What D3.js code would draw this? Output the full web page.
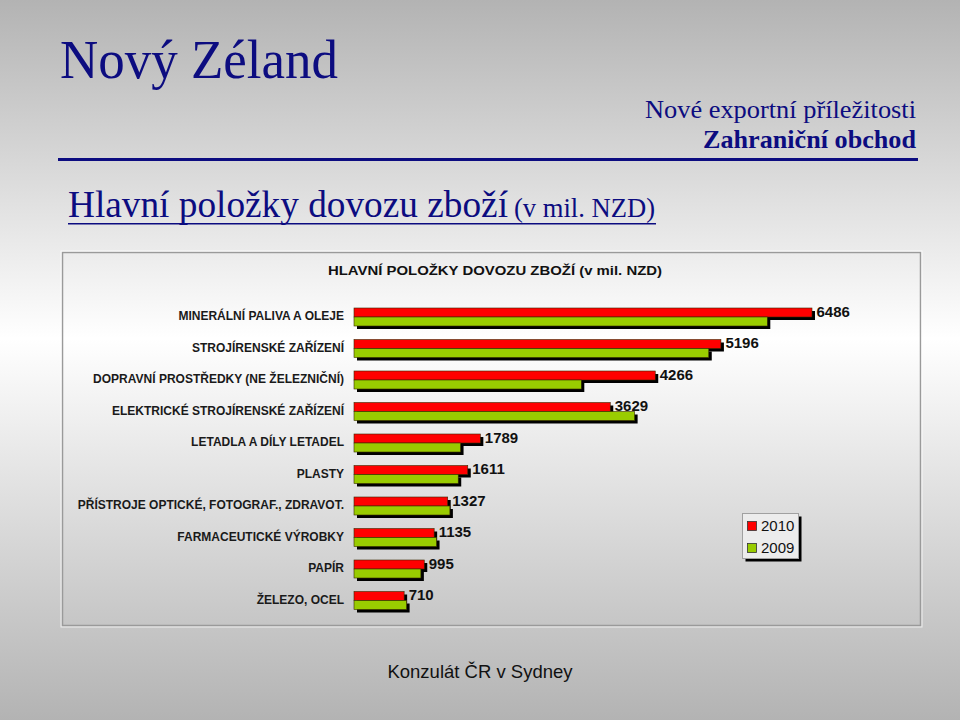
<!DOCTYPE html>
<html><head><meta charset="utf-8">
<script src="https://cdn.jsdelivr.net/npm/d3@7"></script>
<style>html,body{margin:0;padding:0;}svg{display:block;}</style>
</head><body>
<script>
const categories = ["MINERÁLNÍ PALIVA A OLEJE","STROJÍRENSKÉ ZAŘÍZENÍ","DOPRAVNÍ PROSTŘEDKY (NE ŽELEZNIČNÍ)","ELEKTRICKÉ STROJÍRENSKÉ ZAŘÍZENÍ","LETADLA A DÍLY LETADEL","PLASTY","PŘÍSTROJE OPTICKÉ, FOTOGRAF., ZDRAVOT.","FARMACEUTICKÉ VÝROBKY","PAPÍR","ŽELEZO, OCEL"];
const values2010 = [6486,5196,4266,3629,1789,1611,1327,1135,995,710];
const values2009 = [5853,5024,3219,3974,1509,1476,1358,1169,947,745];
const seriesNames = ["2010","2009"];
const seriesColors = ["#ff0000","#99cc00"];

const W=960,H=720;
const svg=d3.select("body").append("svg").attr("width",W).attr("height",H);
const defs=svg.append("defs");
const bg=defs.append("linearGradient").attr("id","bg").attr("x1",0).attr("y1",0).attr("x2",0).attr("y2",1);
bg.append("stop").attr("offset","0").attr("stop-color","#b3b3b3");
bg.append("stop").attr("offset","0.47").attr("stop-color","#ffffff");
bg.append("stop").attr("offset","1").attr("stop-color","#b3b3b3");
svg.append("rect").attr("width",W).attr("height",H).attr("fill","url(#bg)");

const navy="#0c0c80";
const serif="'Liberation Serif','Times New Roman',serif";
const sans="'Liberation Sans',Arial,sans-serif";

svg.append("text").attr("x",60).attr("y",78).attr("font-family",serif).attr("font-size",55).attr("fill",navy)
  .attr("textLength",278).attr("lengthAdjust","spacingAndGlyphs").text("Nový Zéland");
svg.append("text").attr("x",916).attr("y",118).attr("text-anchor","end").attr("font-family",serif).attr("font-size",26).attr("fill",navy)
  .attr("textLength",271).attr("lengthAdjust","spacingAndGlyphs").text("Nové exportní příležitosti");
svg.append("text").attr("x",916).attr("y",148).attr("text-anchor","end").attr("font-family",serif).attr("font-size",26).attr("font-weight","bold").attr("fill",navy)
  .attr("textLength",213).attr("lengthAdjust","spacingAndGlyphs").text("Zahraniční obchod");
svg.append("rect").attr("x",58).attr("y",158).attr("width",860).attr("height",3).attr("fill",navy);
svg.append("text").attr("x",68).attr("y",217).attr("font-family",serif).attr("fill",navy).attr("font-size",37)
  .attr("textLength",440).attr("lengthAdjust","spacingAndGlyphs").text("Hlavní položky dovozu zboží");
svg.append("text").attr("x",514).attr("y",217).attr("font-family",serif).attr("fill",navy).attr("font-size",26.5)
  .attr("textLength",141).attr("lengthAdjust","spacingAndGlyphs").text("(v mil. NZD)");
svg.append("rect").attr("x",68).attr("y",223).attr("width",588).attr("height",1.5).attr("fill",navy);

// chart frame
svg.append("rect").attr("x",62.5).attr("y",252.5).attr("width",858).attr("height",373).attr("fill","none").attr("stroke","#9a9a9a").attr("stroke-width",1.5);
svg.append("rect").attr("x",61).attr("y",251).attr("width",861).attr("height",376).attr("fill","none").attr("stroke","#ffffff").attr("stroke-width",1).attr("opacity",0.7);

svg.append("text").attr("x",328).attr("y",275).attr("font-family",sans).attr("font-weight","bold").attr("font-size",13.5).attr("fill","#111")
  .attr("textLength",334).attr("lengthAdjust","spacingAndGlyphs").text("HLAVNÍ POLOŽKY DOVOZU ZBOŽÍ (v mil. NZD)");

const x=d3.scaleLinear().domain([0,6486]).range([354,812]);
const y=d3.scaleBand().domain(categories).range([308,609.5]).paddingInner(13.5/31.5).paddingOuter(0);
const ys=d3.scaleBand().domain(seriesNames).range([0,y.bandwidth()]);

const rows=categories.map((c,i)=>({c,vals:[values2010[i],values2009[i]]}));
const g=svg.append("g");
rows.forEach(r=>{
  r.vals.forEach((v,k)=>{
    const yy=y(r.c)+ys(seriesNames[k]);
    g.append("rect").attr("x",x(0)+3).attr("y",yy+3).attr("width",x(v)-x(0)).attr("height",ys.bandwidth()).attr("fill","#000");
    g.append("rect").attr("x",x(0)).attr("y",yy).attr("width",x(v)-x(0)).attr("height",ys.bandwidth()).attr("fill",seriesColors[k]).attr("stroke","#3a2a00").attr("stroke-width",0.6);
  });
});
// category labels
svg.append("g").selectAll("text").data(categories).join("text")
  .attr("x",344).attr("y",d=>y(d)+y.bandwidth()/2-1).attr("dy","0.35em").attr("text-anchor","end")
  .attr("font-family",sans).attr("font-weight","bold").attr("font-size",12).attr("fill","#1a1a1a").text(d=>d);
// value labels
svg.append("g").selectAll("text").data(rows).join("text")
  .attr("x",d=>x(d.vals[0])+4.5).attr("y",d=>y(d.c)+ys("2010")+ys.bandwidth()/2-1).attr("dy","0.35em")
  .attr("font-family",sans).attr("font-weight","bold").attr("font-size",15).attr("fill","#111").text(d=>d.vals[0]);

// legend
const lg=svg.append("g");
lg.append("rect").attr("x",745.5).attr("y",516.5).attr("width",56).attr("height",45).attr("fill","#000");
lg.append("rect").attr("x",742.5).attr("y",513.5).attr("width",56).attr("height",45).attr("fill","#ececec").attr("stroke","#a0a0a0");
seriesNames.forEach((s,k)=>{
  const cy=526+k*22;
  lg.append("rect").attr("x",747.5).attr("y",cy-4.5).attr("width",9).attr("height",9).attr("fill",seriesColors[k]).attr("stroke","#333").attr("stroke-width",0.8);
  lg.append("text").attr("x",761).attr("y",cy).attr("dy","0.35em").attr("font-family",sans).attr("font-size",15).attr("fill","#111").text(s);
});

svg.append("text").attr("x",480).attr("y",678).attr("text-anchor","middle").attr("font-family",sans).attr("font-size",18.5).attr("fill","#111").text("Konzulát ČR v Sydney");
</script>
</body></html>
